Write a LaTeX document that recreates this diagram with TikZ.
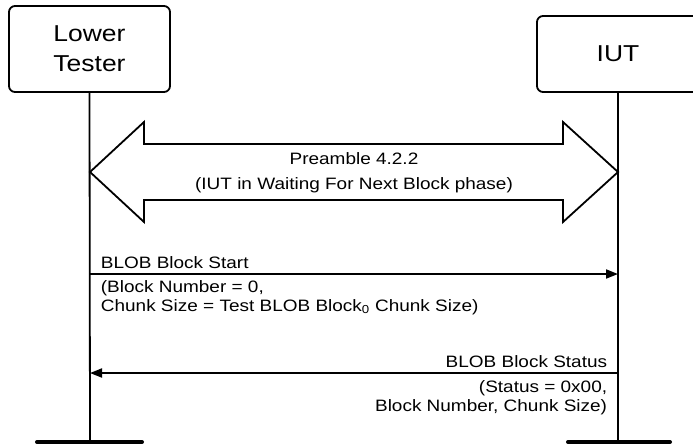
\documentclass[tikz,border=0pt]{standalone}
\usepackage{fontspec}
\setmainfont{Liberation Sans}[FakeStretch=1.15]
\usetikzlibrary{arrows.meta}

\begin{document}
\begin{tikzpicture}[x=1pt, y=-1pt, line width=1.8pt,
      entity/.style = {draw, rounded corners=6pt, align=center,
                       font=\fontsize{23}{30}\selectfont},
      msg/.style = {-{Triangle[length=12pt, width=9pt]}},
      txt/.style = {inner sep=0pt, font=\fontsize{16.5}{18.5}\selectfont},
      ground/.style = {line width=4pt, line cap=round}]
    \useasboundingbox (0,0) rectangle (693,445);

    % nodes
    \node[entity, minimum width=161pt, minimum height=86pt] (lt) at (89.5,49) {Lower\\Tester};
    \node[entity, minimum width=162pt, minimum height=76pt] (iut) at (618,54) {IUT};

    \coordinate (lt-end) at (90,442);
    \coordinate (iut-end) at (618,442);
    \coordinate (lt-m1) at (90,274);
    \coordinate (iut-m1) at (618,274);
    \coordinate (lt-m2) at (90,373);
    \coordinate (iut-m2) at (618,373);

    % lifelines
    \draw (lt.south) -- (lt-end);
    \draw (iut.south) -- (iut-end);
    \draw[ground] (37,442) -- (142,442);
    \draw[ground] (568,442) -- (670,442);

    % preamble
    \draw (90,172) -- (144,122) -- (144,144) -- (563,144) -- (563,122) -- (618,172)
          -- (563,222) -- (563,200) -- (144,200) -- (144,222) -- cycle;
    \node[txt, align=center, font=\fontsize{16.5}{25}\selectfont] (pre) at (354,173)
          {Preamble 4.2.2\\(IUT in Waiting For Next Block phase)};

    % messages
    \draw[msg] (lt-m1) to node[txt, above right, xshift=10pt, yshift=4pt, pos=0] {BLOB Block Start} (iut-m1);
    \node[txt, align=left, anchor=north west] (m1) at (100,280)
          {(Block Number = 0,\\Chunk Size = Test BLOB Block\textsubscript{0} Chunk Size)};

    \draw[msg] (iut-m2) to node[txt, above left, xshift=-10pt, yshift=4pt, pos=0] {BLOB Block Status} (lt-m2);
    \node[txt, align=right, anchor=north east] (m2) at (608,380)
          {(Status = 0x00,\\Block Number, Chunk Size)};
\end{tikzpicture}
\end{document}
